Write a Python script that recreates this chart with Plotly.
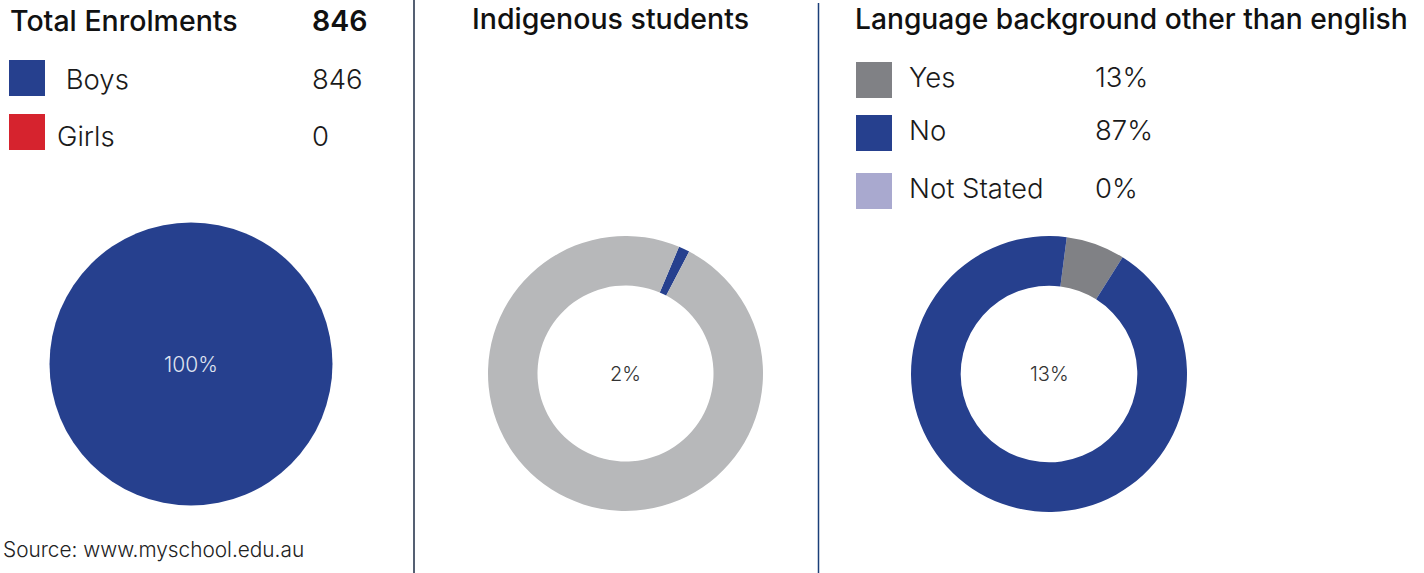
import plotly.graph_objects as go

W, H = 1424, 573

# ---------------- data ----------------
total_label = "Total Enrolments"
total_value = 846
gender_labels = ["Boys", "Girls"]
gender_values = [846, 0]
gender_colors = ["#26408e", "#d6232e"]

indig_title = "Indigenous students"
indig_labels = ["Indigenous", "Non-indigenous"]
indig_slices = [1.3, 98.7]          # slice shares as drawn
indig_center_text = "2%"
indig_colors = ["#26408e", "#b7b8ba"]

lang_title = "Language background other than english"
lang_labels = ["Yes", "No", "Not Stated"]
lang_legend_pct = [13, 87, 0]
lang_slices = [6.9, 93.1, 0]        # slice shares as drawn
lang_center_text = "13%"
lang_colors = ["#808185", "#26408e", "#a9a9cf"]

source_text = "Source: www.myschool.edu.au"

FONT = "Inter"


def px(x):
    return x / W


def py(y):
    return 1 - y / H


def dom(cx, cy, r):
    return dict(x=[px(cx - r), px(cx + r)], y=[py(cy + r), py(cy - r)])


fig = go.Figure()

boys_pct = [v / sum(gender_values) * 100 for v in gender_values]
fig.add_trace(go.Pie(
    labels=gender_labels, values=gender_values, sort=False,
    direction="clockwise", rotation=0,
    marker=dict(colors=gender_colors, line=dict(width=0)),
    text=[f"{p:.0f}%" if p > 0 else "" for p in boys_pct],
    textinfo="text", textposition="inside", insidetextorientation="horizontal",
    textfont=dict(family=FONT, size=21, color="#dfe3f0", weight=300),
    domain=dom(191, 364, 141.5), showlegend=False, hoverinfo="label+value",
))

fig.add_trace(go.Pie(
    labels=indig_labels, values=indig_slices, sort=False,
    direction="clockwise", rotation=22.9, hole=0.64,
    marker=dict(colors=indig_colors, line=dict(width=0)),
    textinfo="none", domain=dom(625.5, 373.5, 137.5), showlegend=False,
))

fig.add_trace(go.Pie(
    labels=lang_labels, values=lang_slices, sort=False,
    direction="clockwise", rotation=7.4, hole=0.64,
    marker=dict(colors=lang_colors, line=dict(width=0)),
    textinfo="none", domain=dom(1049, 374, 138), showlegend=False,
))

ann = []
shapes = []


def text(x, y, s, size, weight=300, anchor="left", color="#1a1a1a"):
    ann.append(dict(x=px(x), y=py(y), xref="paper", yref="paper", text=s,
                    showarrow=False, xanchor=anchor, yanchor="middle",
                    font=dict(family=FONT, size=size, color=color, weight=weight)))


def square(x, y, c):
    shapes.append(dict(type="rect", xref="paper", yref="paper",
                       x0=px(x), x1=px(x + 36), y0=py(y + 36), y1=py(y),
                       fillcolor=c, line=dict(width=0)))


HEAD = 28.5
BODY = 27.5

# left panel
text(8, 20, total_label, HEAD, 500, color="#111111")
text(310, 20, str(total_value), HEAD, 600, color="#111111")
square(9, 60, gender_colors[0])
square(9, 114, gender_colors[1])
text(56, 79, " " + gender_labels[0], BODY)
text(55, 136, gender_labels[1], BODY)
text(310, 79, str(gender_values[0]), BODY)
text(310, 136, str(gender_values[1]), BODY)
text(1, 549, source_text, 20.8, 300, anchor="left", color="#222222")

# middle panel
text(610.5, 18, indig_title, HEAD, 500, anchor="center", color="#111111")
text(625.5, 374, indig_center_text, 20, 300, anchor="center", color="#333333")

# right panel
text(853, 19, lang_title, 28.2, 500, color="#111111")
rows = [80, 133, 191]
for lab, pct, col, yy in zip(lang_labels, lang_legend_pct, lang_colors, rows):
    square(856, yy - 18, col)
    text(907, yy - 3, lab, BODY)
    text(1093, yy - 3, f"{pct}%", BODY)
text(1049, 374, lang_center_text, 20, 300, anchor="center", color="#333333")

# dividers
shapes.append(dict(type="line", xref="paper", yref="paper", x0=px(414), x1=px(414),
                   y0=0, y1=1, line=dict(color="#1d2b45", width=1.5)))
shapes.append(dict(type="line", xref="paper", yref="paper", x0=px(818.5), x1=px(818.5),
                   y0=0, y1=py(3), line=dict(color="#1b3e78", width=1.5)))

fig.update_layout(
    width=W, height=H, margin=dict(l=0, r=0, t=0, b=0),
    paper_bgcolor="white", plot_bgcolor="white",
    annotations=ann, shapes=shapes, showlegend=False,
)

fig.write_html("out.html")
